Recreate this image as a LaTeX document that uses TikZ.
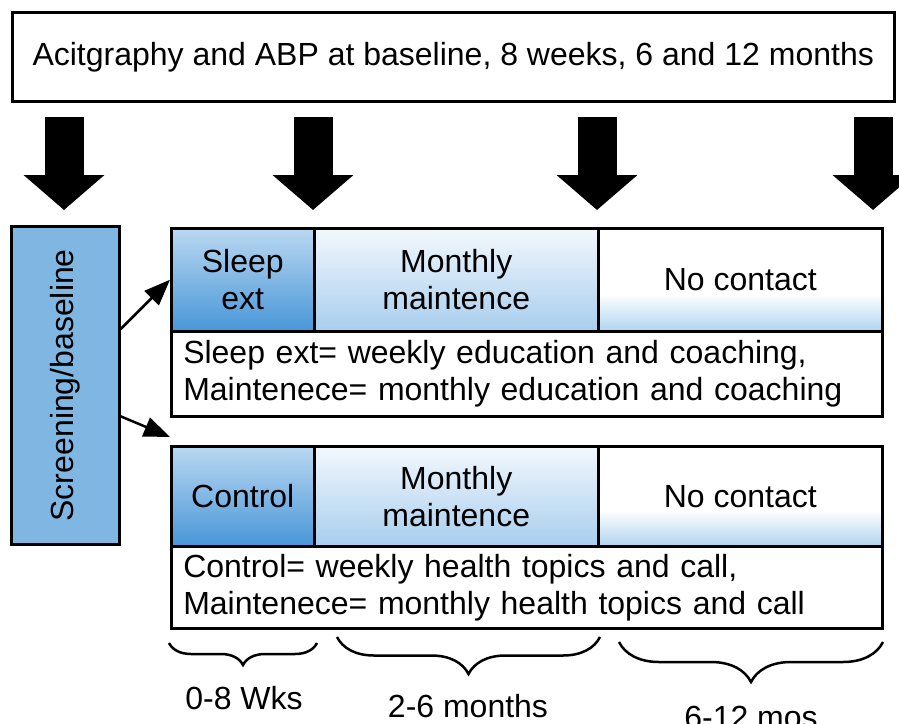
\documentclass[tikz,border=0pt]{standalone}
\usepackage{fontspec}
\setmainfont{Liberation Sans}
\usetikzlibrary{arrows.meta,decorations.pathreplacing}

\definecolor{screenblue}{RGB}{127,182,226}
\definecolor{sleeptop}{RGB}{186,216,241}
\definecolor{sleepbot}{RGB}{72,150,216}
\definecolor{monthtop}{RGB}{243,248,253}
\definecolor{monthbot}{RGB}{168,206,238}
\definecolor{nonebot}{RGB}{176,212,240}
\pgfdeclareverticalshading{nocontact}{100bp}{color(0bp)=(nonebot); color(25bp)=(nonebot); color(43bp)=(white); color(100bp)=(white)}

\begin{document}
\begin{tikzpicture}[x=1pt, y=-1pt,
  every node/.style={font=\fontsize{32}{37}\selectfont},
  box/.style={draw, line width=2.5pt, inner sep=0pt, anchor=north west, align=center},
  darkcell/.style={box, top color=sleeptop, bottom color=sleepbot},
  midcell/.style={box, top color=monthtop, bottom color=monthbot},
  lightcell/.style={box, shading=nocontact},
  descbox/.style={box, fill=white, align=left, inner xsep=12pt, text width=687pt},
  bigarrow/.style={line width=39pt, -{Triangle[length=35pt, width=79pt]}},
  smallarrow/.style={line width=2.5pt, -{Triangle[length=26pt, width=20pt]}},
  timebrace/.style={decorate, line width=2.5pt, decoration={brace, mirror, amplitude=#1}}]
\clip (0,0) rectangle (899,723);
% Measurement box across the top
\node[box, minimum width=882pt, minimum height=89pt] (meas) at (11,11) {Acitgraphy and ABP at baseline, 8 weeks, 6 and 12 months};
% Four big arrows for the measurement times
\foreach \x [count=\i] in {64,313,597,873} {
  \coordinate (top\i) at (\x,117);
  \coordinate (tip\i) at (\x,210);
  \draw[bigarrow] (top\i) -- (tip\i);
}
% Screening box on the left
\node[box, fill=screenblue, minimum width=108pt, minimum height=318pt] (screen) at (10,225) {\rotatebox{90}{Screening/baseline}};
% Sleep extension arm
\node[darkcell, minimum width=143pt, minimum height=103pt] (sleep) at (170,227) {Sleep\\ext};
\node[midcell, minimum width=284pt, minimum height=103pt] (smonth) at (313,227) {Monthly\\maintence};
\node[lightcell, minimum width=284pt, minimum height=103pt] (snone) at (597,227) {No contact};
\node[descbox, minimum height=85pt] (sdesc) at (170,330) {Sleep ext= weekly education and coaching,\\Maintenece= monthly education and coaching};
% Control arm
\node[darkcell, minimum width=143pt, minimum height=100pt] (ctrl) at (170,445) {Control};
\node[midcell, minimum width=284pt, minimum height=100pt] (cmonth) at (313,445) {Monthly\\maintence};
\node[lightcell, minimum width=284pt, minimum height=100pt] (cnone) at (597,445) {No contact};
\node[descbox, minimum height=82pt] (cdesc) at (170,545) {Control= weekly health topics and call,\\Maintenece= monthly health topics and call};
% Randomisation arrows
\draw[smallarrow] ([yshift=56pt]screen.east) -- (sleep.west);
\draw[smallarrow] ([yshift=-31pt]screen.east) -- ([yshift=8pt]ctrl.north west);
% Braces for the time periods
\coordinate (b1l) at (169,643); \coordinate (b1r) at (317,643);
\coordinate (b2l) at (337,637); \coordinate (b2r) at (600,637);
\coordinate (b3l) at (619,642); \coordinate (b3r) at (883,642);
\draw[timebrace=22pt] (b1l) -- (b1r);
\draw[timebrace=37pt] (b2l) -- (b2r);
\draw[timebrace=40pt] (b3l) -- (b3r);
% Period labels
\node (wks) at (244,698) {0-8 Wks};
\node (months) at (468,706) {2-6 months};
\node (mos) at (751,717) {6-12 mos};
\end{tikzpicture}
\end{document}
